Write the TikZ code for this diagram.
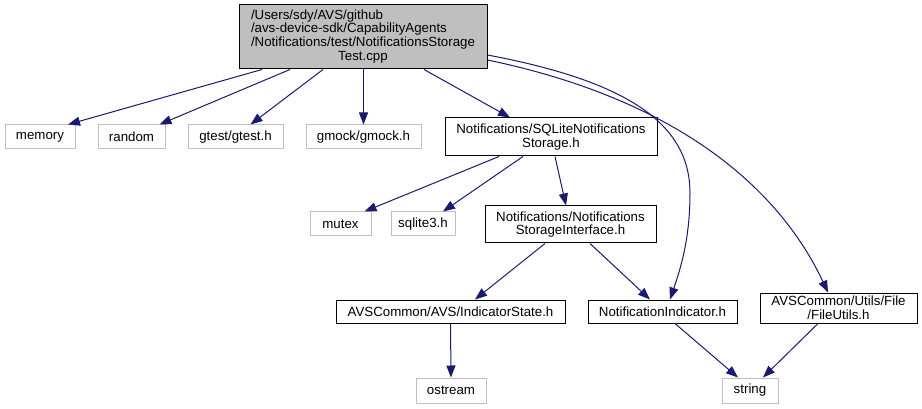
\documentclass[tikz,border=0pt]{standalone}
\usepackage{fontspec}
\setmainfont{Liberation Sans}
\usetikzlibrary{arrows.meta, calc}

\definecolor{edgeblue}{RGB}{25,25,112}
\definecolor{boxgray}{RGB}{191,191,191}

\begin{document}
\begin{tikzpicture}[x=1pt, y=-1pt,
	font=\fontsize{13.3}{13.8}\selectfont,
	hdr/.style={draw=black, line width=1pt, inner sep=0pt, align=center},
	sys/.style={draw=boxgray, line width=1pt, inner sep=0pt, align=center},
	dep/.style={draw=edgeblue, line width=1pt, -{Triangle[length=12pt,width=9pt]}}]
	\useasboundingbox (0,0) rectangle (922,409);
	\def\bx#1#2#3#4#5#6{\node[#1, minimum width=#4pt, minimum height=#5pt] (#6) at (#2,#3)}
	% the test file
	\bx{hdr}{363}{37}{248}{64}{root}[fill=boxgray]
		{\begin{tabular}{@{}l@{}}/Users/sdy/AVS/github\\/avs-device-sdk/CapabilityAgents\\/Notifications/test/NotificationsStorage\\\multicolumn{1}{@{}c@{}}{Test.cpp}\end{tabular}};
	% first row
	\bx{sys}{40}{137}{70}{24}{memory} {memory};
	\bx{sys}{131.5}{137}{67}{24}{random} {random};
	\bx{sys}{235.5}{137}{95}{24}{gtest} {gtest/gtest.h};
	\bx{sys}{363.5}{137}{115}{24}{gmock} {gmock/gmock.h};
	\bx{hdr}{551}{137}{212}{38}{sqlstore} {Notifications/SQLiteNotifications\\Storage.h};
	% second row
	\bx{sys}{340.5}{224}{61}{24}{mutex} {mutex};
	\bx{sys}{423}{224}{64}{24}{sqlite} {sqlite3.h};
	\bx{hdr}{570.5}{224.5}{171}{37}{storeif} {Notifications/Notifications\\StorageInterface.h};
	% third row
	\bx{hdr}{450.5}{311.5}{229}{23}{indstate} {AVSCommon/AVS/IndicatorState.h};
	\bx{hdr}{662.5}{311.5}{149}{23}{notind} {NotificationIndicator.h};
	\bx{hdr}{838.5}{308}{157}{30}{fileutils} {AVSCommon/Utils/File\\/FileUtils.h};
	% last row
	\bx{sys}{451}{390.5}{70}{25}{ostream} {ostream};
	\bx{sys}{750}{390.5}{56}{25}{string} {string};

	% includes of the test file
	\draw[dep] ([xshift=-101pt]root.south) -- ([xshift=28pt]memory.north);
	\draw[dep] ([xshift=-73pt]root.south) -- ([xshift=28pt]random.north);
	\draw[dep] ([xshift=-40pt]root.south) -- ([xshift=15pt]gtest.north);
	\draw[dep] ([xshift=0.5pt]root.south) -- (gmock.north);
	\draw[dep] ([xshift=61pt]root.south) -- ([xshift=-41pt]sqlstore.north);
	\draw[dep] ([yshift=-18pt]root.east) .. controls (620,80) and (690,120) .. (690,193)
		.. controls (690,240) and (680,270) .. ([xshift=7.5pt]notind.north);
	\draw[dep] ([yshift=-23pt]root.east) .. controls (680,100) and (780,190) .. ([xshift=-10.5pt]fileutils.north);
	% includes of the storage header
	\draw[dep] ([xshift=-52pt]sqlstore.south) -- ([xshift=24pt]mutex.north);
	\draw[dep] ([xshift=-28pt]sqlstore.south) -- ([xshift=20pt]sqlite.north);
	\draw[dep] ([xshift=4pt]sqlstore.south) -- ([xshift=-4.5pt]storeif.north);
	\draw[dep] ([xshift=-25.5pt]storeif.south) -- ([xshift=24.5pt]indstate.north);
	\draw[dep] ([xshift=19.5pt]storeif.south) -- ([xshift=-12.5pt]notind.north);
	% down to the std headers
	\draw[dep] (indstate.south) -- (ostream.north);
	\draw[dep] ([xshift=12.5pt]notind.south) -- ([xshift=-12pt]string.north);
	\draw[dep] ([xshift=-20.5pt]fileutils.south) -- ([xshift=13pt]string.north);
\end{tikzpicture}
\end{document}
